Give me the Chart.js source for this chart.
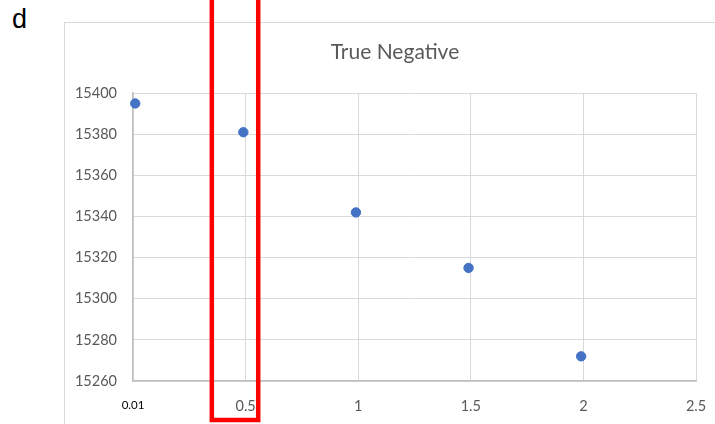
<!DOCTYPE html>
<html>
<head>
<meta charset="utf-8">
<script src="https://cdn.jsdelivr.net/npm/chart.js@4/dist/chart.umd.min.js"></script>
<style>
  html, body { margin: 0; padding: 0; background: #ffffff; }
  #wrap { position: relative; width: 715px; height: 424px; overflow: hidden; }
  #frame { position: absolute; left: 64px; top: 22px; width: 700px; height: 460px;
           border: 1px solid #d9d9d9; box-sizing: border-box; }
  #panel { position: absolute; left: 12px; top: 4px; font-family: "Liberation Sans", Arial, sans-serif;
           font-size: 27px; color: #000; }
  canvas { position: absolute; left: 0; top: 0; }
</style>
</head>
<body>
<div id="wrap">
  <div id="frame"></div>
  <div id="panel">d</div>
  <canvas id="c" width="715" height="424"></canvas>
</div>
<script>
// Threshold values and resulting true-negative counts
const thresholds = [0.01, 0.49, 0.99, 1.49, 1.99];
const trueNegatives = [15395, 15381, 15342, 15315, 15272];
const xTickLabels = ['0.01', '0.5', '1', '1.5', '2', '2.5'];
const yTicks = [15260, 15280, 15300, 15320, 15340, 15360, 15380, 15400];
// highlighted threshold band
const highlightBand = [0.35, 0.556];

const points = thresholds.map((x, i) => ({ x: x, y: trueNegatives[i] }));

const bandPlugin = {
  id: 'band',
  afterDraw(chart) {
    const xs = chart.scales.x;
    const ctx = chart.ctx;
    const l = xs.getPixelForValue(highlightBand[0]);
    const r = xs.getPixelForValue(highlightBand[1]);
    ctx.save();
    ctx.strokeStyle = '#ff0000';
    ctx.lineWidth = 4.5;
    ctx.beginPath();
    ctx.moveTo(l, -10);
    ctx.lineTo(l, chart.height - 4);
    ctx.lineTo(r, chart.height - 4);
    ctx.lineTo(r, -10);
    ctx.stroke();
    ctx.restore();
  }
};

new Chart(document.getElementById('c'), {
  type: 'scatter',
  data: {
    datasets: [{
      label: 'True Negative',
      data: points,
      backgroundColor: '#4472c4',
      borderColor: '#4472c4',
      pointRadius: 4.7,
      pointHoverRadius: 4.7,
      clip: false
    }]
  },
  options: {
    responsive: false,
    animation: false,
    events: [],
    layout: { padding: { left: 75, right: 0, top: 22, bottom: 0 } },
    plugins: {
      legend: { display: false },
      tooltip: { enabled: false },
      title: {
        display: true,
        text: 'True Negative',
        color: '#595959',
        font: { family: 'Lato', size: 21, weight: 'normal', lineHeight: 1.2 },
        padding: { top: 18, bottom: 28 }
      }
    },
    scales: {
      x: {
        type: 'linear',
        min: 0,
        max: 2.5,
        afterBuildTicks(scale) {
          scale.ticks = xTickLabels.map((t, i) => ({ value: i * 0.5 }));
        },
        afterFit(scale) {
          scale.height = 43;
          scale.paddingRight = 19;
        },
        grid: { color: '#d9d9d9', lineWidth: 1, drawTicks: false },
        border: { color: '#bfbfbf', width: 1.5 },
        ticks: {
          padding: 17,
          maxRotation: 0,
          autoSkip: false,
          color: (ctx) => ctx.index === 0 ? '#000000' : '#595959',
          font: (ctx) => ctx.index === 0
            ? { family: 'Lato', size: 11.5 }
            : { family: 'Lato', size: 14.5 },
          callback: (v, i) => xTickLabels[i]
        }
      },
      y: {
        min: 15260,
        max: 15400,
        afterBuildTicks(scale) {
          scale.ticks = yTicks.map(v => ({ value: v }));
        },
        afterFit(scale) {
          scale.width = 58;
        },
        grid: { color: '#d9d9d9', lineWidth: 1, drawTicks: false },
        border: { color: '#bfbfbf', width: 1.5 },
        ticks: {
          padding: 16,
          color: '#595959',
          font: { family: 'Lato', size: 14.5 },
          callback: (v) => String(v)
        }
      }
    }
  },
  plugins: [bandPlugin]
});
</script>
</body>
</html>
